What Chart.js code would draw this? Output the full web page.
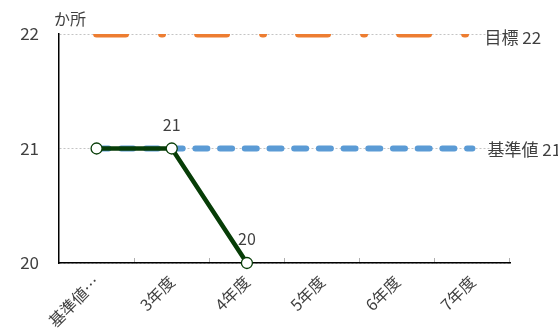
<!DOCTYPE html>
<html>
<head>
<meta charset="utf-8">
<script src="https://cdn.jsdelivr.net/npm/chart.js@4.4.1/dist/chart.umd.min.js"></script>
<style>
  html, body { margin: 0; padding: 0; background: #fff; }
</style>
</head>
<body>
<canvas id="chart" width="558" height="329"></canvas>
<script>
const categories = ['基準値…', '3年度', '4年度', '5年度', '6年度', '7年度'];
const actualValues = [21, 21, 20, null, null, null];
const targetValues = [22, 22, 22, 22, 22, 22];
const baselineValues = [21, 21, 21, 21, 21, 21];
const actualLabels = [null, '21', '20', null, null, null];
const yMin = 20, yMax = 22, yStep = 1;
const unitText = 'か所';
const targetText = '目標 22';
const baselineText = '基準値 21';

const FONT = '"Noto Sans CJK JP", "Noto Sans", sans-serif';
const TEXT = '#404040';

// value labels, end-of-line labels and the unit above the y axis
const labelPlugin = {
    id: 'labels',
    afterDatasetsDraw(chart) {
        const ctx = chart.ctx;
        ctx.save();
        ctx.font = '16px ' + FONT;
        ctx.fillStyle = TEXT;

        // actual values above points
        const actualMeta = chart.getDatasetMeta(0);
        ctx.textAlign = 'center';
        ctx.textBaseline = 'middle';
        actualMeta.data.forEach((pt, i) => {
            if (!actualLabels[i] || actualValues[i] == null) return;
            ctx.fillText(actualLabels[i], pt.x, pt.y - 24);
        });

        // labels to the right of the flat lines
        ctx.font = '17px ' + FONT;
        ctx.textAlign = 'left';
        const ends = [
            { index: 2, text: targetText, dx: 12, dy: 4 },
            { index: 1, text: baselineText, dx: 15, dy: 1 }
        ];
        ends.forEach(e => {
            const pts = chart.getDatasetMeta(e.index).data;
            const last = pts[pts.length - 1];
            ctx.fillText(e.text, last.x + e.dx, last.y + e.dy);
        });

        // unit
        ctx.font = '16px ' + FONT;
        const area = chart.chartArea;
        ctx.fillText(unitText, area.left - 5, area.top - 15);
        ctx.restore();
    }
};

new Chart(document.getElementById('chart').getContext('2d'), {
    type: 'line',
    data: {
        labels: categories,
        datasets: [
            {
                label: '実績',
                data: actualValues,
                borderColor: '#073d07',
                borderWidth: 4.5,
                pointRadius: 5.5,
                pointBorderWidth: 1.3,
                pointBackgroundColor: '#ffffff',
                pointBorderColor: '#073d07',
                spanGaps: false,
                clip: false,
                order: 0
            },
            {
                label: '基準値',
                data: baselineValues,
                borderColor: '#5b9bd5',
                borderWidth: 6,
                borderDash: [12, 12.7],
                borderCapStyle: 'round',
                pointRadius: 0,
                order: 1
            },
            {
                label: '目標',
                data: targetValues,
                borderColor: '#ed7d31',
                borderWidth: 7,
                borderDash: [29, 36, 1, 35],
                borderCapStyle: 'round',
                pointRadius: 0,
                clip: 0,
                order: 2
            }
        ]
    },
    options: {
        responsive: false,
        animation: false,
        events: [],
        layout: { padding: { top: 34, right: 48, left: 0, bottom: 0 } },
        plugins: {
            legend: { display: false },
            tooltip: { enabled: false }
        },
        scales: {
            x: {
                offset: true,
                grid: {
                    display: true,
                    offset: true,
                    drawOnChartArea: false,
                    drawTicks: true,
                    tickLength: -5,
                    color: '#b0b0b0'
                },
                border: { color: '#000000', width: 1.5 },
                ticks: {
                    font: { family: FONT, size: 16 },
                    color: TEXT,
                    minRotation: 45,
                    maxRotation: 45,
                    padding: 14,
                    autoSkip: false
                },
                afterFit(scale) { scale.height = 66; }
            },
            y: {
                min: yMin,
                max: yMax,
                grid: {
                    color: '#c4c4c4',
                    lineWidth: 1,
                    drawTicks: false
                },
                border: { color: '#000000', width: 1.5, dash: [2, 2] },
                ticks: {
                    stepSize: yStep,
                    font: { family: FONT, size: 17 },
                    color: TEXT,
                    padding: 20
                },
                afterFit(scale) { scale.width = 59; }
            }
        }
    },
    plugins: [labelPlugin]
});
</script>
</body>
</html>
